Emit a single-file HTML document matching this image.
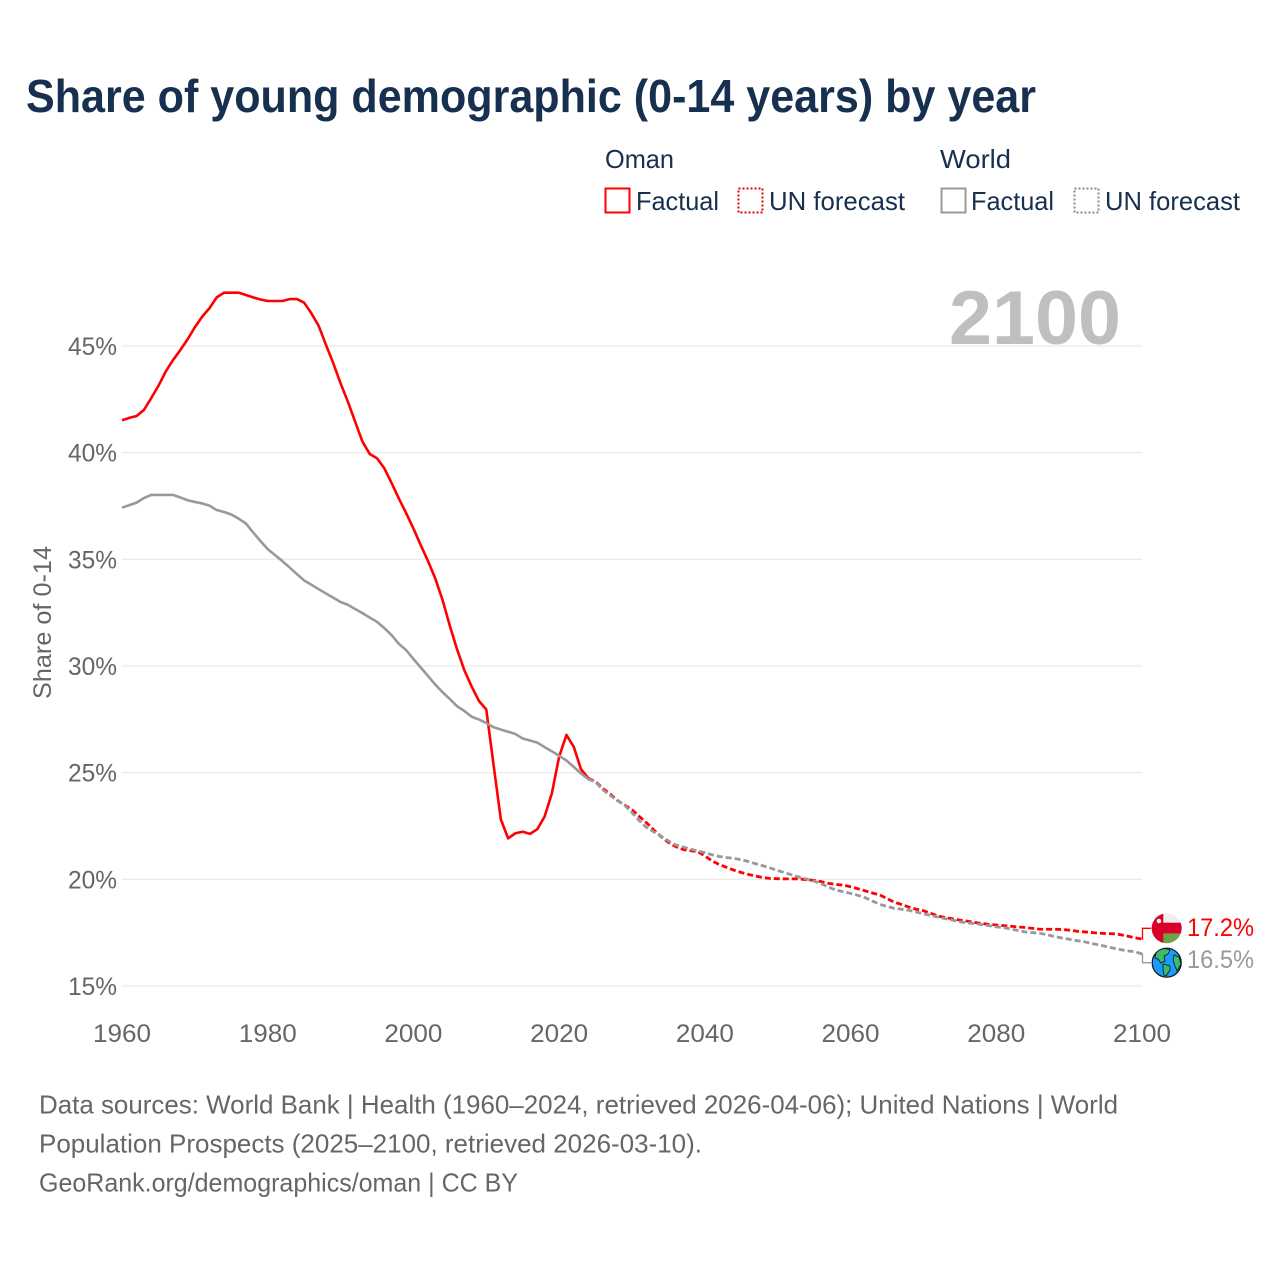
<!DOCTYPE html>
<html lang="en">
<head>
<meta charset="utf-8">
<title>Share of young demographic (0-14 years) by year</title>
<style>
html,body{margin:0;padding:0;background:#fff;}
svg{display:block;}
text{font-family:"Liberation Sans",sans-serif;}
</style>
</head>
<body>
<svg id="chart" xmlns="http://www.w3.org/2000/svg" width="1280" height="1280" viewBox="0 0 1280 1280">
  <rect x="0" y="0" width="1280" height="1280" fill="#fff"/>
  <text x="26" y="112" font-size="46" font-weight="700" fill="#17304f" textLength="1010" lengthAdjust="spacingAndGlyphs">Share of young demographic (0-14 years) by year</text>

  <g fill="#17304f" font-size="26">
    <text x="605" y="168" textLength="69" lengthAdjust="spacingAndGlyphs">Oman</text>
    <text x="940" y="168" textLength="71" lengthAdjust="spacingAndGlyphs">World</text>
    <rect x="605.5" y="188.5" width="24" height="24" fill="none" stroke="#ff0000" stroke-width="2"/>
    <text x="636" y="210" textLength="83" lengthAdjust="spacingAndGlyphs">Factual</text>
    <rect x="738.5" y="188.5" width="24" height="24" fill="none" stroke="#dd0000" stroke-width="2" stroke-dasharray="2 2"/>
    <text x="769" y="210" textLength="136" lengthAdjust="spacingAndGlyphs">UN forecast</text>
    <rect x="941.5" y="188.5" width="24" height="24" fill="none" stroke="#999999" stroke-width="2"/>
    <text x="971" y="210" textLength="83" lengthAdjust="spacingAndGlyphs">Factual</text>
    <rect x="1074.5" y="188.5" width="24" height="24" fill="none" stroke="#888888" stroke-width="2" stroke-dasharray="2 2"/>
    <text x="1105" y="210" textLength="135" lengthAdjust="spacingAndGlyphs">UN forecast</text>
  </g>

  <g id="grid"></g>
  <text x="949" y="344" font-size="76" font-weight="700" fill="#bfbfbf" textLength="172" lengthAdjust="spacingAndGlyphs">2100</text>
  <g id="ylabels"></g>
  <g id="xlabels"></g>
  <text transform="translate(51,699) rotate(-90)" x="0" y="0" font-size="25" fill="#666666" textLength="153" lengthAdjust="spacingAndGlyphs">Share of 0-14</text>
  <g id="series"></g>

  <g id="oman-flag">
    <clipPath id="flag-clip"><circle cx="1166.7" cy="928.3" r="15"/></clipPath>
    <g clip-path="url(#flag-clip)">
      <rect x="1151" y="913" width="32" height="10" fill="#eeeeee"/>
      <rect x="1151" y="922.7" width="32" height="11" fill="#d80027"/>
      <rect x="1151" y="933.7" width="32" height="10" fill="#6da544"/>
      <rect x="1151" y="913" width="12.3" height="31" fill="#d80027"/>
      <circle cx="1159" cy="921" r="2.3" fill="#eeeeee"/>
    </g>
  </g>
  <g id="world-globe">
    <circle cx="1166.7" cy="962.7" r="14.5" fill="#1a9bff" stroke="#111" stroke-width="1.2"/>
    <path d="M1156 953 C1160 948 1166 948 1170 950 L1168 954 L1164 956 L1165 961 L1161 963 L1158 959 L1155 958 Z" fill="#3cba6e" stroke="#111" stroke-width="0.8"/>
    <path d="M1163 964 L1170 966 L1170 970 L1166 976 L1164 975 L1163 969 Z" fill="#3cba6e" stroke="#111" stroke-width="0.8"/>
    <path d="M1174 955 L1179 957 L1181 964 L1177 971 L1175 966 L1173 960 Z" fill="#3cba6e" stroke="#111" stroke-width="0.8"/>
  </g>
  <text x="1187" y="936" font-size="25" fill="#ff0000" textLength="67" lengthAdjust="spacingAndGlyphs">17.2%</text>
  <text x="1187" y="968" font-size="25" fill="#999999" textLength="67" lengthAdjust="spacingAndGlyphs">16.5%</text>

  <g font-size="26" fill="#666666">
    <text x="39" y="1113.5" textLength="1079" lengthAdjust="spacingAndGlyphs">Data sources: World Bank | Health (1960–2024, retrieved 2026-04-06); United Nations | World</text>
    <text x="39" y="1152.5" textLength="663" lengthAdjust="spacingAndGlyphs">Population Prospects (2025–2100, retrieved 2026-03-10).</text>
    <text x="39" y="1191.5" textLength="479" lengthAdjust="spacingAndGlyphs">GeoRank.org/demographics/oman | CC BY</text>
  </g>
</svg>
<script>
const factualStartYear = 1960;
const forecastStartYear = 2025;
const xTicks = [1960, 1980, 2000, 2020, 2040, 2060, 2080, 2100];
const yTicks = [15, 20, 25, 30, 35, 40, 45];

const omanFactual = [
  41.52,41.63,41.72,42.00,42.55,43.13,43.80,44.34,44.81,45.31,
  45.88,46.37,46.77,47.28,47.50,47.50,47.50,47.39,47.28,47.18,
  47.11,47.11,47.11,47.20,47.20,47.03,46.53,45.94,45.05,44.19,
  43.25,42.39,41.45,40.52,39.94,39.74,39.27,38.58,37.85,37.17,
  36.44,35.67,34.92,34.10,33.09,31.88,30.77,29.79,29.03,28.36,
  27.96,25.36,22.81,21.92,22.16,22.23,22.13,22.35,22.94,24.03,
  25.75,26.77,26.22,25.16,24.74
];
const omanForecast = [
  24.58,24.26,24.00,23.70,23.48,23.26,22.95,22.65,22.31,22.00,21.73,
  21.53,21.40,21.34,21.30,21.10,20.86,20.69,20.56,20.43,20.32,
  20.23,20.15,20.08,20.04,20.03,20.02,20.02,20.02,19.98,19.95,
  19.89,19.81,19.76,19.73,19.65,19.56,19.46,19.36,19.27,19.10,
  18.93,18.82,18.70,18.60,18.53,18.41,18.28,18.21,18.15,18.09,
  18.04,17.98,17.93,17.89,17.86,17.83,17.80,17.77,17.74,17.70,
  17.66,17.66,17.66,17.65,17.62,17.57,17.54,17.51,17.48,17.46,
  17.45,17.41,17.34,17.26,17.20
];
const worldFactual = [
  37.42,37.54,37.66,37.87,38.02,38.02,38.02,38.02,37.90,37.77,
  37.69,37.62,37.52,37.31,37.22,37.10,36.91,36.68,36.26,35.86,
  35.48,35.20,34.92,34.62,34.31,34.01,33.81,33.60,33.40,33.20,
  33.00,32.87,32.67,32.48,32.27,32.07,31.78,31.45,31.04,30.74,
  30.33,29.93,29.53,29.13,28.77,28.45,28.11,27.89,27.62,27.49,
  27.33,27.13,27.02,26.92,26.81,26.60,26.51,26.41,26.20,26.00,
  25.79,25.57,25.27,24.96,24.70
];
const worldForecast = [
  24.56,24.20,23.93,23.70,23.47,23.13,22.75,22.43,22.22,22.02,21.80,
  21.61,21.52,21.42,21.33,21.25,21.15,21.07,21.02,20.98,20.92,
  20.83,20.73,20.63,20.53,20.41,20.31,20.20,20.10,20.01,19.92,
  19.79,19.63,19.50,19.42,19.34,19.25,19.14,18.98,18.83,18.73,
  18.64,18.60,18.55,18.47,18.38,18.31,18.23,18.16,18.09,18.01,
  17.96,17.93,17.88,17.83,17.77,17.74,17.67,17.60,17.53,17.50,
  17.47,17.40,17.32,17.25,17.19,17.13,17.08,17.00,16.93,16.86,
  16.78,16.71,16.64,16.61,16.50
];

const NS = 'http://www.w3.org/2000/svg';
function xScale(year) { return 122 + (year - 1960) * (1020 / 140); }
function yScale(value) { return 986 - (value - 15) * (640 / 30); }

function linePoints(values, startYear, prefixPoint) {
  const pts = prefixPoint ? [prefixPoint] : [];
  values.forEach(function (v, i) {
    pts.push(xScale(startYear + i).toFixed(2) + ',' + yScale(v).toFixed(2));
  });
  return pts.join(' ');
}
function lastPoint(values, startYear) {
  const i = values.length - 1;
  return xScale(startYear + i).toFixed(2) + ',' + yScale(values[i]).toFixed(2);
}

const gridGroup = document.getElementById('grid');
const yLabelGroup = document.getElementById('ylabels');
const xLabelGroup = document.getElementById('xlabels');
const seriesGroup = document.getElementById('series');

yTicks.forEach(function (t) {
  const line = document.createElementNS(NS, 'line');
  
  
  line.setAttribute('x1', 122);
  line.setAttribute('x2', 1142);
  line.setAttribute('y1', yScale(t));
  line.setAttribute('y2', yScale(t));
  line.setAttribute('stroke', '#ebebeb');
  line.setAttribute('stroke-width', '1.3');
  gridGroup.appendChild(line);

  const label = document.createElementNS(NS, 'text');
  
  
  label.setAttribute('x', 68);
  label.setAttribute('y', yScale(t) + 9);
  label.setAttribute('font-size', '25');
  label.setAttribute('fill', '#666666');
  label.setAttribute('textLength', '49');
  label.setAttribute('lengthAdjust', 'spacingAndGlyphs');
  label.textContent = t + '%';
  yLabelGroup.appendChild(label);
});

xTicks.forEach(function (t) {
  const label = document.createElementNS(NS, 'text');
  
  
  label.setAttribute('x', xScale(t) - 29);
  label.setAttribute('y', 1042);
  label.setAttribute('font-size', '25');
  label.setAttribute('fill', '#666666');
  label.setAttribute('textLength', '58');
  label.setAttribute('lengthAdjust', 'spacingAndGlyphs');
  label.textContent = t;
  xLabelGroup.appendChild(label);
});

function addLine(points, color, dashed, width) {
  const el = document.createElementNS(NS, 'polyline');
  el.setAttribute('points', points);
  el.setAttribute('fill', 'none');
  el.setAttribute('stroke', color);
  el.setAttribute('stroke-width', width);
  el.setAttribute('stroke-linejoin', 'round');
  if (dashed) { el.setAttribute('stroke-dasharray', '6 3'); }
  seriesGroup.appendChild(el);
  return el;
}

const omanLine = addLine(linePoints(omanFactual, factualStartYear), '#ff0000', false, 2.6);



const omanDash = addLine(linePoints(omanForecast, forecastStartYear, lastPoint(omanFactual, factualStartYear)), '#ff0000', true, 2.8);



const worldLine = addLine(linePoints(worldFactual, factualStartYear), '#999999', false, 2.6);



const worldDash = addLine(linePoints(worldForecast, forecastStartYear, lastPoint(worldFactual, factualStartYear)), '#999999', true, 2.8);



function addConnector(value, labelY, color) {
  const y = yScale(value);
  const el = document.createElementNS(NS, 'polyline');
  el.setAttribute('points', '1142,' + y.toFixed(2) + ' 1142.5,' + y.toFixed(2) + ' 1142.5,' + labelY + ' 1151,' + labelY);
  el.setAttribute('fill', 'none');
  el.setAttribute('stroke', color);
  el.setAttribute('stroke-width', '1.3');
  seriesGroup.appendChild(el);
  return el;
}
const omanConnector = addConnector(omanForecast[omanForecast.length - 1], 928.3, '#ff0000');


const worldConnector = addConnector(worldForecast[worldForecast.length - 1], 962.7, '#999999');


</script>
</body>
</html>
